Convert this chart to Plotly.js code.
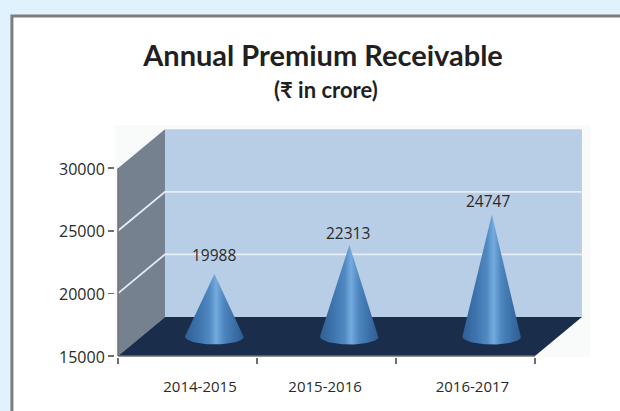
<!DOCTYPE html>
<html>
<head>
<meta charset="utf-8">
<script src="https://cdn.plot.ly/plotly-3.0.1.min.js"></script>
<style>html,body{margin:0;padding:0;background:#dff2fd;overflow:hidden}</style>
</head>
<body>
<div id="chart" style="width:620px;height:411px"></div>
<script>
// Data
var categories = ['2014-2015', '2015-2016', '2016-2017'];
var premium = [19988, 22313, 24747];
var yTicks = [15000, 20000, 25000, 30000];
var titleText = 'Annual Premium Receivable';
var subtitleText = '(₹ in crore)';

// Chart geometry, in axis units
var catEdges = [0, 1, 2, 3];
var conePos = [0.694, 1.665, 2.69];
var labelPos = [0.59, 1.49, 2.55];
var valueLabelPos = [0.691, 1.655, 2.662];
var labelLift = [6, -1, 0];
var depthX = 0.338, depthY = 3115;
var yMin = 15000, yMax = 30000;
var coneDepth = 0.5;
var coneHalf = 0.212, ellipseH = 640;

function wall(xs, ys, color) {
  return {x: xs, y: ys, mode: 'lines', fill: 'toself', fillcolor: color,
          line: {width: 0, color: color}, hoverinfo: 'skip', showlegend: false};
}
function path(xs, ys, color, w) {
  return {x: xs, y: ys, mode: 'lines', line: {width: w, color: color},
          hoverinfo: 'skip', showlegend: false};
}
var traces = [];
var xEnd = catEdges[catEdges.length - 1];

// Back wall, side wall, floor
traces.push(wall([depthX, xEnd + depthX, xEnd + depthX, depthX],
                 [yMin + depthY, yMin + depthY, yMax + depthY, yMax + depthY], '#b8cde6'));
traces.push(wall([0, depthX, depthX, 0], [yMin, yMin + depthY, yMax + depthY, yMax], '#75818f'));
traces.push(wall([0, xEnd, xEnd + depthX, depthX], [yMin, yMin, yMin + depthY, yMin + depthY], '#1a2d4b'));

// Gridlines over both walls
yTicks.forEach(function (v) {
  if (v === yMin || v === yMax) return;
  traces.push(path([0, depthX, xEnd + depthX], [v, v + depthY, v + depthY], '#e6edf5', 1.8));
});

// Axis lines
traces.push(path([0, 0], [yMin, yMax], '#6f6f6f', 1.5));
traces.push(path([0, xEnd], [yMin, yMin], '#6f6f6f', 1.5));

// Cones
premium.forEach(function (v, i) {
  var cx = conePos[i], base = yMin + depthY * coneDepth;
  var xs = [cx], ys = [v + depthY * coneDepth];
  for (var k = 0; k <= 40; k++) {
    var a = Math.PI * k / 40;
    xs.push(cx + coneHalf * Math.cos(a));
    ys.push(base - ellipseH * Math.sin(a));
  }
  xs.push(cx); ys.push(v + depthY * coneDepth);
  traces.push({
    x: xs, y: ys, mode: 'lines', fill: 'toself', line: {width: 0, color: '#3f74ad'},
    fillcolor: '#4a83bd',
    fillgradient: {type: 'horizontal', colorscale: [
      [0, '#2f5f94'], [0.22, '#3d73ad'], [0.42, '#5089c2'], [0.53, '#74abdf'],
      [0.66, '#4e86c0'], [0.85, '#3a6ea6'], [1, '#2e5d90']]},
    hoverinfo: 'skip', showlegend: false
  });
});

var annotations = premium.map(function (v, i) {
  return {x: valueLabelPos[i], y: v + depthY * coneDepth, text: String(v), showarrow: false,
          yanchor: 'bottom', yshift: labelLift[i], xref: 'x', yref: 'y',
          font: {family: 'Open Sans', size: 15.5, color: '#2a2a2a'}};
});
annotations.push({xref: 'paper', yref: 'paper', x: 0.4445, y: 1.151, xanchor: 'center', yanchor: 'middle',
  text: '<b>' + subtitleText + '</b>', showarrow: false, font: {family: 'Lato', size: 22, color: '#231f20'}});

var layout = {
  width: 620, height: 411,
  margin: {l: 115, r: 30, t: 125, b: 54, pad: 0},
  paper_bgcolor: '#dff2fd',
  plot_bgcolor: 'rgba(0,0,0,0)',
  showlegend: false,
  title: {text: '<b>' + titleText + '</b>', x: 0.521, xanchor: 'center', y: 0.865, yanchor: 'middle',
          font: {family: 'Lato', size: 29, color: '#231f20'}},
  xaxis: {
    range: [-0.0216, 3.396], showgrid: false, zeroline: false, showline: false,
    tickmode: 'array', tickvals: labelPos, ticktext: categories, ticks: '', ticklabelstandoff: 19,
    tickfont: {family: 'Open Sans', size: 15, color: '#2a2a2a'},
    minor: {tickmode: 'array', tickvals: catEdges, ticks: 'outside', ticklen: 6, tickwidth: 1.5, tickcolor: '#6f6f6f', showgrid: false}
  },
  yaxis: {
    range: [14920, 33450], showgrid: false, zeroline: false, showline: false,
    tickmode: 'array', tickvals: yTicks, ticktext: yTicks.map(String), ticks: 'outside', ticklen: 6, tickwidth: 1.5, tickcolor: '#6f6f6f',
    ticklabelshift: 1,
    tickfont: {family: 'Open Sans', size: 16, color: '#2a2a2a'}
  },
  shapes: [
    {type: 'rect', xref: 'paper', yref: 'paper', layer: 'below',
     x0: -0.217, x1: 1.1, y0: -0.25, y1: 1.47,
     fillcolor: '#ffffff', line: {color: '#7d7d7d', width: 3}},
    {type: 'rect', xref: 'paper', yref: 'paper', layer: 'below',
     x0: 0, x1: 1, y0: 0, y1: 1, fillcolor: '#f9fbfb', line: {width: 0}}
  ],
  annotations: annotations
};
Plotly.newPlot('chart', traces, layout, {displayModeBar: false, staticPlot: true});
</script>
</body>
</html>
